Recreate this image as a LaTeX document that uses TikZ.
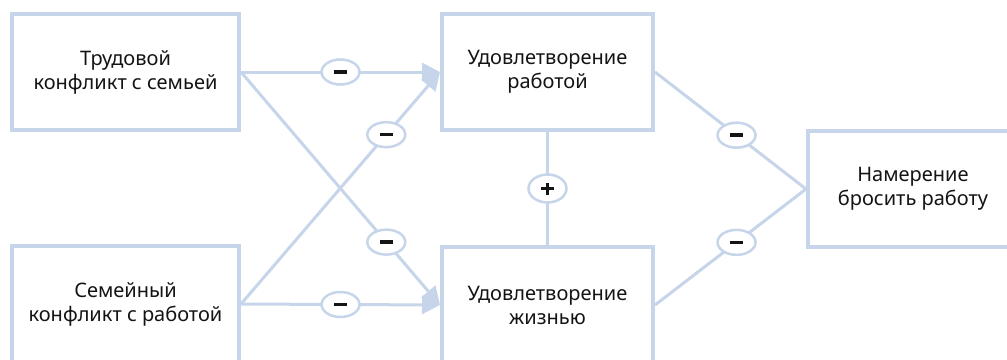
\documentclass[tikz,border=0pt]{standalone}
\usepackage{fontspec}
\setmainfont{Noto Sans}
\usetikzlibrary{arrows.meta,shapes.geometric,calc}
\definecolor{lb}{RGB}{198,213,233}
\definecolor{tx}{RGB}{20,20,20}
\tikzset{
  x=1pt,y=1pt,
  box/.style={draw=lb,line width=4pt,fill=white,minimum width=#1,minimum height=116pt,
    align=center,font=\fontsize{20}{24}\selectfont,text=tx,inner sep=0pt},
  box/.default=227pt,
  conn/.style={draw=lb,line width=3pt},
  arr/.style={conn,-{Triangle[length=18pt,width=18pt,color=lb]}},
  sgn/.style={draw=lb,line width=2.5pt,fill=white,ellipse,minimum width=38pt,minimum height=25pt,inner sep=0pt},
  sgnline/.style={draw=tx,line width=3.4pt},
}
\begin{document}
\begin{tikzpicture}
\useasboundingbox (0,0) rectangle (1007,-359);
\begin{scope}
\clip (0,0) rectangle (1007,-359);
\node[box] (b1) at (125.5,-72) {Трудовой\\конфликт с семьей};
\node[box] (b2) at (125.5,-304) {Семейный\\конфликт с работой};
\node[box=211pt] (b3) at (547.5,-72) {Удовлетворение\\работой};
\node[box=211pt] (b4) at (547.5,-305) {Удовлетворение\\жизнью};
\node[box=210pt] (b5) at (913,-189) {Намерение\\бросить работу};

\draw[arr] (b1.east) -- (b3.west);
\draw[arr] (b1.east) -- (b4.west);
\draw[arr] (b2.east) -- (b3.west);
\draw[arr] (b2.east) -- (b4.west);
\draw[conn] (b3.south) -- (b4.north);
\draw[conn] (b3.east) -- (b5.west);
\draw[conn] (b4.east) -- (b5.west);

\node[sgn] (m1) at ($(b1.east)!0.5!(b3.west)$) {};
\node[sgn] (m2) at ($(b2.east)!0.73!(b3.west)$) {};
\node[sgn] (m3) at ($(b1.east)!0.73!(b4.west)$) {};
\node[sgn] (m4) at ($(b2.east)!0.5!(b4.west)$) {};
\node[sgn] (m5) at ($(b3.east)!0.54!(b5.west)$) {};
\node[sgn] (m6) at ($(b4.east)!0.54!(b5.west)$) {};
\node[sgn,minimum height=28pt] (p1) at ($(b3.south)!0.5!(b4.north)$) {};

\foreach \m in {m1,m2,m3,m4,m5,m6,p1}
  \draw[sgnline] ([xshift=-6.5pt]\m.center) -- ([xshift=6.5pt]\m.center);
\draw[sgnline] ([yshift=-6pt]p1.center) -- ([yshift=6pt]p1.center);
\end{scope}
\end{tikzpicture}
\end{document}
